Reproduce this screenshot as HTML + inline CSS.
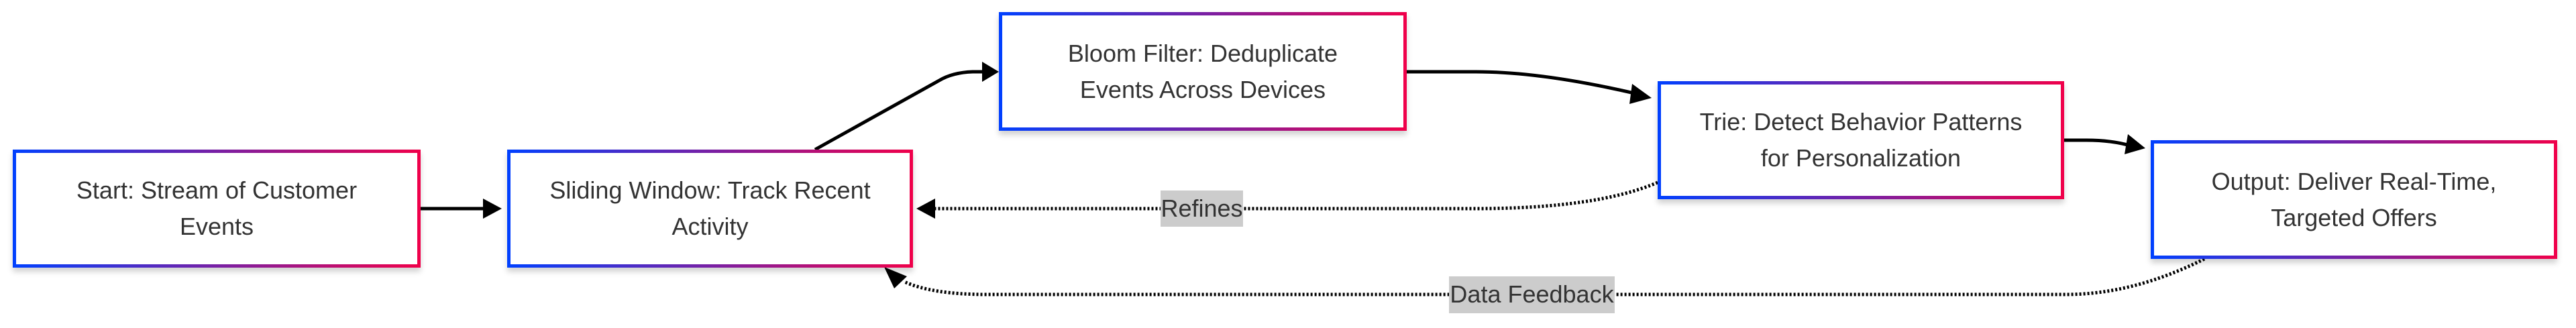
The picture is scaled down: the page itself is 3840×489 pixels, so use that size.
<!DOCTYPE html>
<html><head><meta charset="utf-8"><style>
html,body{margin:0;padding:0;background:#fff;}
body{width:3840px;height:489px;position:relative;overflow:hidden;font-family:"Liberation Sans",sans-serif;}
.n{position:absolute;box-sizing:border-box;padding:5px;background:linear-gradient(90deg,#0040ff,#f0004a);box-shadow:0 6px 8px rgba(0,0,0,0.18);}
.n .i{width:100%;height:100%;background:#fff;display:flex;align-items:center;justify-content:center;text-align:center;color:#333;font-size:36px;line-height:54px;}
.lb{position:absolute;background:#ccc;color:#333;font-size:36px;line-height:54px;text-align:center;white-space:nowrap;}
svg{position:absolute;left:0;top:0;}
</style></head><body>
<svg width="3840" height="489">
<g fill="none" stroke="#000" stroke-width="5">
<path d="M627,311 L722,311"/>
<path d="M1215,223 L1400,120 Q1420,108 1450,107 L1468,107"/>
<path d="M2097,107 L2200,107 Q2300,107 2440,140"/>
<path d="M3077,209 L3110,209 Q3150,209 3178,218"/>
<g stroke-dasharray="3,3">
<path d="M2471,272 Q2380,311 2200,311 L1390,311"/>
<path d="M3286,386 Q3180,439 3080,439 L1470,439 Q1390,439 1348,420"/>
</g>
</g>
<g fill="#000">
<path d="M720,296 L748,311 L720,326 z"/>
<path d="M1464,92 L1489,107 L1464,122 z"/>
<path d="M2433,125 L2462,146 L2429,155 z"/>
<path d="M3172,200 L3198,221 L3167,230 z"/>
<path d="M1394,296 L1366,311 L1394,326 z"/>
<path d="M1318,398 L1352,412 L1333,430 z"/>
</g>
</svg>
<div class="n" style="left:19px;top:223px;width:608px;height:176px"><div class="i">Start: Stream of Customer<br>Events</div></div>
<div class="n" style="left:756px;top:223px;width:605px;height:176px"><div class="i">Sliding Window: Track Recent<br>Activity</div></div>
<div class="n" style="left:1489px;top:18px;width:608px;height:177px"><div class="i">Bloom Filter: Deduplicate<br>Events Across Devices</div></div>
<div class="n" style="left:2471px;top:121px;width:606px;height:176px"><div class="i">Trie: Detect Behavior Patterns<br>for Personalization</div></div>
<div class="n" style="left:3206px;top:209px;width:606px;height:177px"><div class="i">Output: Deliver Real-Time,<br>Targeted Offers</div></div>
<div class="lb" style="left:1730px;top:284px;width:123px;height:54px">Refines</div>
<div class="lb" style="left:2160px;top:412px;width:247px;height:55px">Data Feedback</div>
</body></html>
